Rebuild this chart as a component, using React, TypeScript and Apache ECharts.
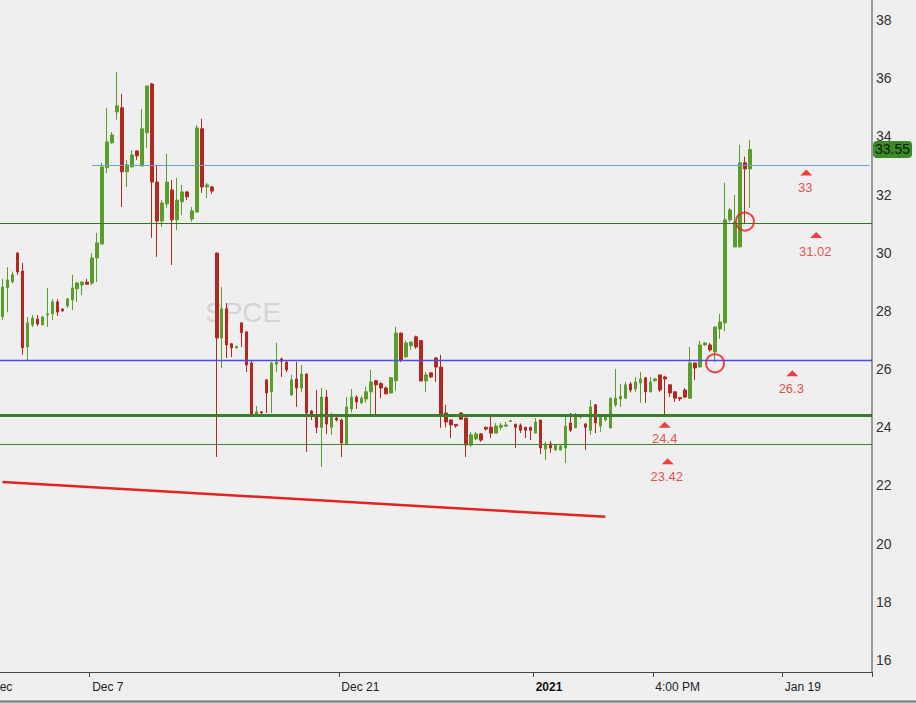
import { useEffect, useRef } from 'react';
import * as echarts from 'echarts';

// trading sessions shown on the axis: [day, number of bars]
const sessions: [string, number][] = [
  ['Dec 1', 3], ['Dec 2', 5], ['Dec 3', 5], ['Dec 4', 5], ['Dec 7', 5], ['Dec 8', 5],
  ['Dec 9', 5], ['Dec 10', 5], ['Dec 11', 5], ['Dec 14', 5], ['Dec 15', 5], ['Dec 16', 5],
  ['Dec 17', 5], ['Dec 18', 5], ['Dec 21', 5], ['Dec 22', 5], ['Dec 23', 5], ['Dec 24', 4],
  ['Dec 28', 5], ['Dec 29', 5], ['Dec 30', 5], ['Dec 31', 5], ['Jan 4', 5], ['Jan 5', 5],
  ['Jan 6', 5], ['Jan 7', 5], ['Jan 8', 5], ['Jan 11', 5], ['Jan 12', 5], ['Jan 13', 5],
  ['Jan 14', 5], ['Jan 15', 5], ['Jan 19', 5], ['Jan 20', 5], ['Jan 21', 5], ['Jan 22', 3],
];

// [open, close, low, high]
const candles: [number, number, number, number][] = [
  [27.8, 28.82, 27.69, 29.1], [28.8, 29.06, 27.96, 29.5], [29.0, 29.24, 28.95, 29.35], [29.99, 29.34, 29.24, 30.02],
  [29.37, 26.73, 26.49, 29.65], [26.76, 27.59, 26.31, 27.79], [27.52, 27.76, 27.45, 27.86], [27.72, 27.55, 27.48, 27.86],
  [27.52, 27.79, 27.5, 27.83], [27.86, 27.9, 27.45, 28.79], [27.9, 28.31, 27.69, 28.41], [28.31, 27.96, 27.83, 28.4],
  [28.06, 28.0, 27.98, 28.1], [28.17, 28.41, 28.1, 28.45], [28.38, 28.79, 28.03, 29.24], [28.76, 28.96, 28.31, 29.0],
  [28.89, 28.99, 28.55, 29.03], [28.99, 28.92, 28.9, 29.1], [28.96, 29.82, 28.89, 29.99], [29.82, 30.34, 28.99, 30.68],
  [30.3, 32.95, 30.3, 33.09], [32.92, 33.81, 32.74, 34.98], [33.78, 34.05, 33.74, 34.15], [34.84, 35.05, 34.57, 36.22],
  [34.98, 32.78, 31.57, 35.46], [32.78, 33.02, 32.26, 33.19], [32.95, 33.36, 32.92, 33.53], [33.5, 33.33, 33.19, 33.52],
  [32.98, 34.26, 32.98, 34.94], [34.12, 35.73, 33.6, 35.74], [35.8, 32.43, 30.51, 35.84], [32.43, 31.09, 29.86, 33.02],
  [31.09, 31.71, 30.89, 31.81], [31.68, 32.43, 31.54, 33.4], [32.16, 31.13, 29.58, 32.5], [31.13, 31.81, 30.78, 32.57],
  [31.75, 32.09, 31.3, 32.33], [32.09, 31.92, 31.81, 32.12], [31.16, 31.44, 31.06, 31.57], [31.4, 34.29, 31.37, 34.39],
  [34.26, 32.26, 32.06, 34.6], [32.26, 32.33, 31.88, 32.4], [32.26, 32.12, 32.02, 32.3], [29.99, 27.07, 22.98, 30.0],
  [27.07, 28.07, 26.04, 28.82], [28.07, 26.83, 26.38, 28.27], [26.87, 26.73, 26.41, 26.9], [26.73, 26.78, 26.7, 26.8],
  [27.59, 27.25, 26.76, 27.6], [27.28, 26.14, 25.9, 27.28], [26.21, 24.42, 24.42, 26.3], [24.42, 24.53, 24.4, 24.73],
  [24.53, 24.5, 24.45, 24.55], [25.63, 25.18, 24.49, 25.63], [25.22, 26.21, 24.49, 26.25], [26.17, 26.24, 25.9, 26.9],
  [26.35, 26.27, 25.73, 26.4], [26.24, 25.97, 25.9, 26.27], [25.11, 25.63, 25.08, 25.8], [25.66, 25.35, 24.7, 26.25],
  [25.35, 25.83, 25.2, 26.14], [25.83, 24.49, 23.15, 25.85], [24.56, 24.42, 24.25, 24.6], [24.42, 24.0, 23.8, 25.28],
  [24.0, 25.04, 22.64, 25.35], [25.04, 24.11, 23.77, 25.28], [24.0, 24.35, 23.74, 24.5], [24.32, 24.25, 24.2, 24.35],
  [24.25, 23.46, 22.98, 24.3], [23.43, 24.7, 23.43, 25.04], [24.63, 25.04, 24.5, 25.32], [25.04, 24.87, 24.63, 25.1],
  [24.84, 25.0, 24.8, 25.07], [24.97, 25.22, 24.84, 25.39], [25.22, 25.56, 24.42, 25.97], [25.6, 25.46, 24.42, 25.63],
  [25.5, 25.35, 25.0, 25.56], [25.35, 25.15, 25.13, 25.4], [25.18, 25.7, 25.15, 25.73], [25.6, 27.24, 25.25, 27.45],
  [27.24, 26.31, 26.24, 27.25], [26.42, 26.9, 26.38, 26.98], [26.8, 26.93, 26.66, 26.95], [27.11, 26.76, 26.7, 27.15],
  [26.98, 25.59, 25.59, 27.0], [25.59, 25.8, 25.22, 25.9], [25.87, 25.73, 25.7, 25.9], [26.38, 26.07, 25.56, 26.42],
  [26.07, 24.42, 23.98, 26.49], [24.49, 24.18, 24.0, 24.77], [24.25, 24.08, 23.63, 24.27], [24.1, 24.05, 23.98, 24.1],
  [24.49, 24.28, 24.25, 24.52], [24.32, 23.39, 22.98, 24.32], [23.39, 23.74, 23.32, 23.84], [23.6, 23.77, 23.56, 23.84],
  [23.77, 23.56, 23.5, 23.8], [24.0, 23.94, 23.88, 24.02], [24.0, 23.8, 23.63, 24.35], [23.8, 24.04, 23.8, 24.15],
  [24.0, 24.07, 23.9, 24.15], [24.04, 24.08, 24.0, 24.18], [24.2, 24.22, 24.18, 24.25], [24.1, 24.0, 23.29, 24.13],
  [24.07, 23.9, 23.8, 24.13], [24.0, 23.9, 23.63, 24.02], [24.0, 23.9, 23.56, 24.0], [23.8, 24.18, 23.8, 24.32],
  [24.25, 23.29, 23.08, 24.25], [23.25, 23.43, 22.87, 23.5], [23.43, 23.29, 23.12, 23.53], [23.22, 23.39, 23.2, 23.4],
  [23.22, 23.36, 23.2, 23.39], [23.29, 24.04, 22.77, 24.35], [24.15, 23.9, 23.84, 24.49], [23.98, 24.35, 23.98, 24.49],
  [24.35, 24.38, 24.3, 24.4], [24.11, 24.0, 23.22, 24.15], [23.9, 24.7, 23.74, 24.94], [24.77, 24.15, 23.8, 24.8],
  [24.04, 24.35, 23.84, 24.38], [24.25, 24.35, 24.2, 24.45], [23.98, 25.0, 23.95, 25.01], [24.77, 25.0, 24.7, 26.0],
  [24.97, 25.06, 24.7, 25.49], [25.0, 25.46, 24.97, 25.56], [25.49, 25.28, 25.2, 25.56], [25.32, 25.56, 25.22, 25.73],
  [25.52, 25.66, 24.84, 25.9], [25.7, 25.22, 24.84, 25.73], [25.22, 25.56, 25.2, 25.73], [25.6, 25.66, 25.56, 25.7],
  [25.8, 25.28, 25.22, 25.8], [25.73, 25.66, 24.4, 25.77], [25.46, 25.18, 25.04, 25.46], [25.22, 25.0, 24.87, 25.22],
  [25.02, 24.98, 24.9, 25.04], [25.28, 25.04, 25.0, 25.35], [25.0, 26.21, 24.97, 26.76], [26.21, 26.04, 25.63, 26.21],
  [26.07, 26.83, 26.07, 26.97], [26.83, 26.9, 26.8, 26.93], [26.83, 26.66, 26.6, 26.9], [26.59, 27.45, 26.24, 27.45],
  [27.38, 27.62, 27.04, 27.9], [27.59, 31.13, 27.31, 32.4], [31.13, 31.47, 31.06, 31.54], [30.2, 31.06, 30.2, 31.99],
  [30.2, 33.09, 30.2, 33.71], [33.09, 32.88, 31.02, 33.3], [32.88, 33.55, 31.54, 33.88],
];

const tickIndex = [18, 68, 107, 131, 157];
const tickText = ['Dec 7', 'Dec 21', '2021', '4:00 PM', 'Jan 19'];

// horizontal levels and where their labels sit
const levelValues = [33, 31.02, 26.3, 24.4, 23.42];
const levelLabelIndex = [161, 163, 158, 133, 133];
const level33Start = 18;

const trendStart: [number, number] = [0, 22.12];
const trendEnd: [number, number] = [121, 20.92];
const circlePoints: [number, number][] = [[149, 31.07], [143, 26.2]];
const lastPrice = 33.55;
const symbolName = 'SPCE';

const categories = sessions.flatMap(([d, n]) => Array.from({ length: n }, (_, k) => `${d} #${k + 1}`));

const UP = '#5a9d2c';
const DOWN = '#b3281f';
const RED = '#e52222';
const CLEAR = 'rgba(0,0,0,0)';
const FONT = "'Liberation Sans', Arial, sans-serif";
const NARROW = "'Liberation Sans Narrow', 'Liberation Sans', Arial, sans-serif";

export default function App() {
  const ref = useRef<HTMLDivElement>(null);
  useEffect(() => {
    if (!ref.current) return;
    const chart = echarts.init(ref.current, undefined, { renderer: 'svg' });

    const levelStyles = [
      { color: '#6f9fd8', width: 1, type: 'solid' },
      { color: '#2a7a1c', width: 1.2, type: 'solid' },
      { color: '#4b4bf0', width: 1.3, type: 'solid' },
      { color: '#3a7d2c', width: 3, type: 'solid' },
      { color: '#3f8530', width: 1.1, type: 'solid' },
    ];
    const trendStyle = { color: RED, width: 2.5, type: 'solid' };
    const triOffsets = [[1.5, 7], [1.5, 12], [2.5, 13], [-0.5, 9], [2.5, 17]];
    const textOffsets = [[0.5, 22], [0.5, 28], [1.5, 28], [-0.5, 23], [1.5, 32]];

    const markData: any[] = levelValues.map((v, i) => {
      if (i === 0) {
        return [
          { coord: [level33Start, v], lineStyle: levelStyles[i] },
          { coord: [categories.length - 1, v], lineStyle: levelStyles[i] },
        ];
      }
      return { yAxis: v, lineStyle: levelStyles[i] };
    });
    markData.push([
      { coord: trendStart, lineStyle: trendStyle },
      { coord: trendEnd, lineStyle: trendStyle },
    ]);

    const option: any = {
      animation: false,
      backgroundColor: '#efefef',
      grid: { left: -3, right: 44, top: 20, bottom: 43, containLabel: false },
      xAxis: {
        type: 'category',
        data: categories,
        boundaryGap: true,
        offset: 12,
        axisLine: { show: true, lineStyle: { color: '#444', width: 1 } },
        axisTick: {
          show: true,
          interval: (i: number) => tickIndex.includes(i),
          length: 5,
          lineStyle: { color: '#444' },
        },
        axisLabel: {
          interval: (i: number) => tickIndex.includes(i),
          formatter: (_v: string, i: number) => {
            const k = tickIndex.indexOf(i);
            if (k < 0) return '';
            return tickText[k] === '2021' ? `{b|${tickText[k]}}` : tickText[k];
          },
          align: 'left',
          margin: 9,
          color: '#222',
          fontSize: 12,
          fontFamily: NARROW,
          rich: { b: { fontWeight: 'bold', fontSize: 12, color: '#111', fontFamily: NARROW } },
        },
        splitLine: { show: false },
      },
      yAxis: {
        type: 'value',
        position: 'right',
        min: 16,
        max: 38,
        interval: 2,
        axisLine: { show: false },
        axisTick: { show: false },
        splitLine: { show: false },
        axisLabel: { margin: 4, color: '#333', fontSize: 14, fontFamily: FONT },
      },
      graphic: [
        {
          type: 'text', x: 205, y: 298, z: -10,
          style: { text: symbolName, fontSize: 28, fontFamily: FONT, fill: '#d5d5d5' },
        },
        {
          type: 'line', z: 10,
          shape: { x1: 872, y1: 0, x2: 872, y2: 672 },
          style: { stroke: '#444', lineWidth: 1 },
        },
        {
          type: 'line', z: 10,
          shape: { x1: 0, y1: 701.5, x2: 916, y2: 701.5 },
          style: { stroke: '#777', lineWidth: 2 },
        },
        {
          type: 'text', x: -9, y: 681,
          style: { text: 'Dec', fontSize: 12, fontFamily: NARROW, fill: '#222' },
        },
      ],
      series: [
        {
          type: 'candlestick',
          data: candles,
          barWidth: 3,
          itemStyle: { color: UP, color0: DOWN, borderColor: UP, borderColor0: DOWN, borderWidth: 1 },
          silent: true,
          markLine: { symbol: ['none', 'none'], silent: true, label: { show: false }, data: markData },
        },
        {
          type: 'line',
          silent: true,
          data: [],
          z: 20,
          markLine: {
            symbol: ['none', 'none'],
            silent: true,
            lineStyle: { color: CLEAR, width: 1, type: 'solid' },
            label: {
              show: true,
              position: 'end',
              distance: 1,
              formatter: String(lastPrice),
              backgroundColor: '#3d8a2a',
              borderRadius: 4,
              padding: [2, 2, 1, 2],
              color: '#0c1e08',
              fontSize: 14,
              fontFamily: FONT,
            },
            data: [{ yAxis: lastPrice }],
          },
        },
        {
          type: 'scatter',
          silent: true,
          z: 4,
          symbol: 'triangle',
          symbolSize: [12, 6],
          itemStyle: { color: '#ee1111' },
          data: levelValues.map((v, i) => ({ value: [levelLabelIndex[i], v], symbolOffset: triOffsets[i] })),
        },
        {
          type: 'scatter',
          silent: true,
          z: 4,
          symbolSize: 1,
          itemStyle: { color: CLEAR },
          data: levelValues.map((v, i) => ({
            value: [levelLabelIndex[i], v],
            label: {
              show: true,
              position: 'inside',
              offset: textOffsets[i],
              formatter: String(v),
              color: '#e02424',
              fontSize: 13,
              fontFamily: FONT,
            },
          })),
        },
        {
          type: 'scatter',
          silent: true,
          z: 5,
          symbol: 'circle',
          symbolSize: 18,
          itemStyle: { color: CLEAR, borderColor: RED, borderWidth: 2 },
          data: circlePoints,
        },
      ],
    };
    chart.setOption(option);
    return () => chart.dispose();
  }, []);
  return <div ref={ref} style={{ position: 'absolute', left: 0, top: 0, width: 916, height: 703 }} />;
}
